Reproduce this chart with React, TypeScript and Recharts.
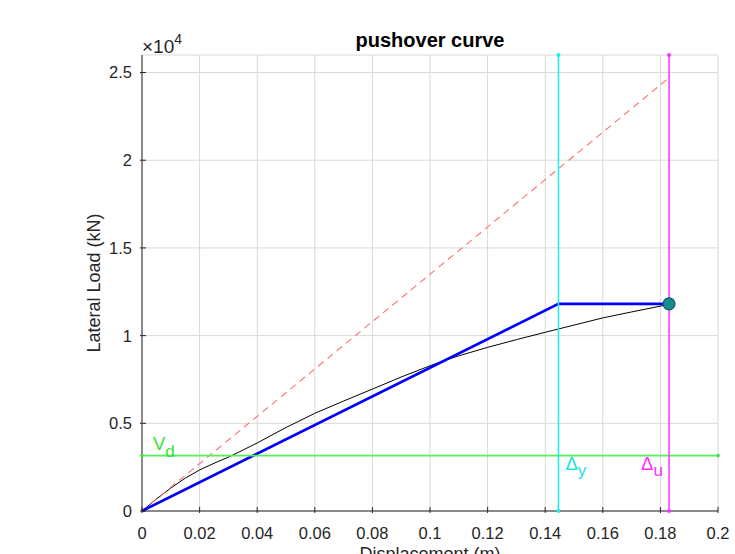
import { ComposedChart, Line, XAxis, YAxis, CartesianGrid, ReferenceDot } from "recharts";

// pushover curve (displacement m, lateral load kN)
const dispCurve = [0, 0.005, 0.01, 0.015, 0.02, 0.025, 0.03, 0.035, 0.04, 0.05, 0.06, 0.07, 0.08, 0.09, 0.1, 0.105, 0.11, 0.12, 0.13, 0.14, 0.15, 0.16, 0.17, 0.183];
const loadCurve = [0, 680, 1310, 1870, 2340, 2720, 3070, 3470, 3880, 4760, 5570, 6270, 6950, 7640, 8280, 8580, 8850, 9330, 9770, 10190, 10600, 11010, 11350, 11780];

// idealised bilinear curve
const dispBilinear = [0, 0.1446, 0.183];
const loadBilinear = [0, 11810, 11810];

// initial stiffness line
const dispInitial = [0, 0.183];
const loadInitial = [0, 24700];

const yieldDisp = 0.1446;
const ultimateDisp = 0.183;
const ultimateLoad = 11810;
const designLoad = 3160;

const xDomain = [0, 0.2];
const yDomain = [0, 26000];
const xTicks = [0, 0.02, 0.04, 0.06, 0.08, 0.1, 0.12, 0.14, 0.16, 0.18, 0.2];
const xTickLabels = ["0", "0.02", "0.04", "0.06", "0.08", "0.1", "0.12", "0.14", "0.16", "0.18", "0.2"];
const yTicks = [0, 5000, 10000, 15000, 20000, 25000];
const yTickLabels = ["0", "0.5", "1", "1.5", "2", "2.5"];

const AXIS = "#262626";
const FONT = "'Liberation Sans', Arial, Helvetica, sans-serif";

const zip = (xs: number[], ys: number[]) => xs.map((x, i) => ({ x, y: ys[i] }));

const curveData = zip(dispCurve, loadCurve);
const bilinearData = zip(dispBilinear, loadBilinear);
const initialData = zip(dispInitial, loadInitial);
const vdData = zip(xDomain, [designLoad, designLoad]);
const yieldData = zip([yieldDisp, yieldDisp], yDomain);
const ultimateData = zip([ultimateDisp, ultimateDisp], yDomain);

function BottomTick(props: any) {
  const { x, y, payload } = props;
  const label = xTickLabels[xTicks.indexOf(payload.value)];
  return (
    <g>
      <line x1={x} y1={y} x2={x} y2={y - 6} stroke={AXIS} />
      <text x={x} y={y + 26} textAnchor="middle" fontSize={16.5} fill={AXIS} fontFamily={FONT}>
        {label}
      </text>
    </g>
  );
}

function TopTick(props: any) {
  const { x, y } = props;
  return <line x1={x} y1={y} x2={x} y2={y + 6} stroke={AXIS} />;
}

function LeftTick(props: any) {
  const { x, y, payload } = props;
  const label = yTickLabels[yTicks.indexOf(payload.value)];
  return (
    <g>
      <line x1={x} y1={y} x2={x + 6} y2={y} stroke={AXIS} />
      <text x={x - 8} y={y} dy="0.36em" textAnchor="end" fontSize={16.5} fill={AXIS} fontFamily={FONT}>
        {label}
      </text>
    </g>
  );
}

function RightTick(props: any) {
  const { x, y } = props;
  return <line x1={x} y1={y} x2={x - 6} y2={y} stroke={AXIS} />;
}

// text with a subscript, placed relative to a reference dot
function SubLabel(props: any) {
  const { viewBox, main, sub, color, dx = 0, dy = 0, subShift = 7 } = props;
  const x = viewBox.x + viewBox.width / 2 + dx;
  const y = viewBox.y + viewBox.height / 2 + dy;
  return (
    <text x={x} y={y} fill={color} fontSize={18.5} fontFamily={FONT}>
      {main}
      <tspan dy={subShift} fontSize={17}>
        {sub}
      </tspan>
    </text>
  );
}

export default function App() {
  return (
    <div style={{ position: "absolute", left: 0, top: 0, width: 735, height: 554, overflow: "hidden", background: "#fff" }}>
      <ComposedChart width={735} height={554} data={curveData} margin={{ top: 55, right: 17, bottom: 0, left: 0 }}>
        <CartesianGrid stroke="#d9d9d9" strokeWidth={1} />
        <XAxis
          dataKey="x"
          type="number"
          domain={xDomain}
          ticks={xTicks}
          interval={0}
          height={43}
          tickSize={0}
          tickLine={false}
          stroke={AXIS}
          tick={(p: any) => <BottomTick {...p} />}
        />
        <XAxis
          xAxisId="top"
          orientation="top"
          dataKey="x"
          type="number"
          domain={xDomain}
          ticks={xTicks}
          interval={0}
          height={0}
          tickSize={0}
          tickLine={false}
          stroke={AXIS}
          tick={(p: any) => <TopTick {...p} />}
        />
        <YAxis
          type="number"
          domain={yDomain}
          ticks={yTicks}
          interval={0}
          width={142}
          tickSize={0}
          tickLine={false}
          stroke={AXIS}
          tick={(p: any) => <LeftTick {...p} />}
        />
        <YAxis
          yAxisId="right"
          orientation="right"
          type="number"
          domain={yDomain}
          ticks={yTicks}
          interval={0}
          width={0}
          tickSize={0}
          tickLine={false}
          stroke={AXIS}
          tick={(p: any) => <RightTick {...p} />}
        />

        <Line data={curveData} dataKey="y" type="linear" stroke="#000" strokeWidth={1} dot={false} isAnimationActive={false} />
        <Line data={initialData} dataKey="y" type="linear" stroke="#ff7070" strokeWidth={1.1} strokeDasharray="7 5" dot={false} isAnimationActive={false} />
        <Line data={bilinearData} dataKey="y" type="linear" stroke="#0000ff" strokeWidth={2.6} dot={false} isAnimationActive={false} />
        <Line data={vdData} dataKey="y" type="linear" stroke="#55f055" strokeWidth={1.6} dot={{ r: 1.8, fill: "#44e044", stroke: "none" }} isAnimationActive={false} />
        <Line data={yieldData} dataKey="y" type="linear" stroke="#18eeee" strokeWidth={1.5} dot={{ r: 2, fill: "#18eeee", stroke: "none" }} isAnimationActive={false} />
        <Line data={ultimateData} dataKey="y" type="linear" stroke="#ff30ff" strokeWidth={1.5} dot={{ r: 2, fill: "#ff30ff", stroke: "none" }} isAnimationActive={false} />

        <ReferenceDot x={ultimateDisp} y={ultimateLoad} r={6} fill="#168c8c" stroke="#0b5e68" strokeWidth={1.2} />

        <ReferenceDot
          x={0}
          y={designLoad}
          r={1}
          fill="none"
          stroke="none"
          label={<SubLabel main="V" sub="d" color="#33e433" dx={11} dy={-6} subShift={7} />}
        />
        <ReferenceDot
          x={yieldDisp}
          y={designLoad}
          r={1}
          fill="none"
          stroke="none"
          label={<SubLabel main="Δ" sub="y" color="#18e0e0" dx={7} dy={14} subShift={6} />}
        />
        <ReferenceDot
          x={ultimateDisp}
          y={designLoad}
          r={1}
          fill="none"
          stroke="none"
          label={<SubLabel main="Δ" sub="u" color="#ff30ff" dx={-28} dy={14} subShift={6} />}
        />
      </ComposedChart>

      <svg width={735} height={554} style={{ position: "absolute", left: 0, top: 0, pointerEvents: "none" }}>
        <text x={430} y={47} textAnchor="middle" fontSize={20} fontWeight="bold" fill="#000" fontFamily={FONT}>
          pushover curve
        </text>
        <text x={142} y={53} fontSize={19} fill={AXIS} fontFamily={FONT}>
          ×10
          <tspan dy={-9} fontSize={14}>
            4
          </tspan>
        </text>
        <text
          x={0}
          y={0}
          transform="translate(100 283) rotate(-90)"
          textAnchor="middle"
          fontSize={18}
          fill={AXIS}
          fontFamily={FONT}
        >
          Lateral Load (kN)
        </text>
        <text x={430} y={560} textAnchor="middle" fontSize={18} fill={AXIS} fontFamily={FONT}>
          Displacement (m)
        </text>
      </svg>
    </div>
  );
}
